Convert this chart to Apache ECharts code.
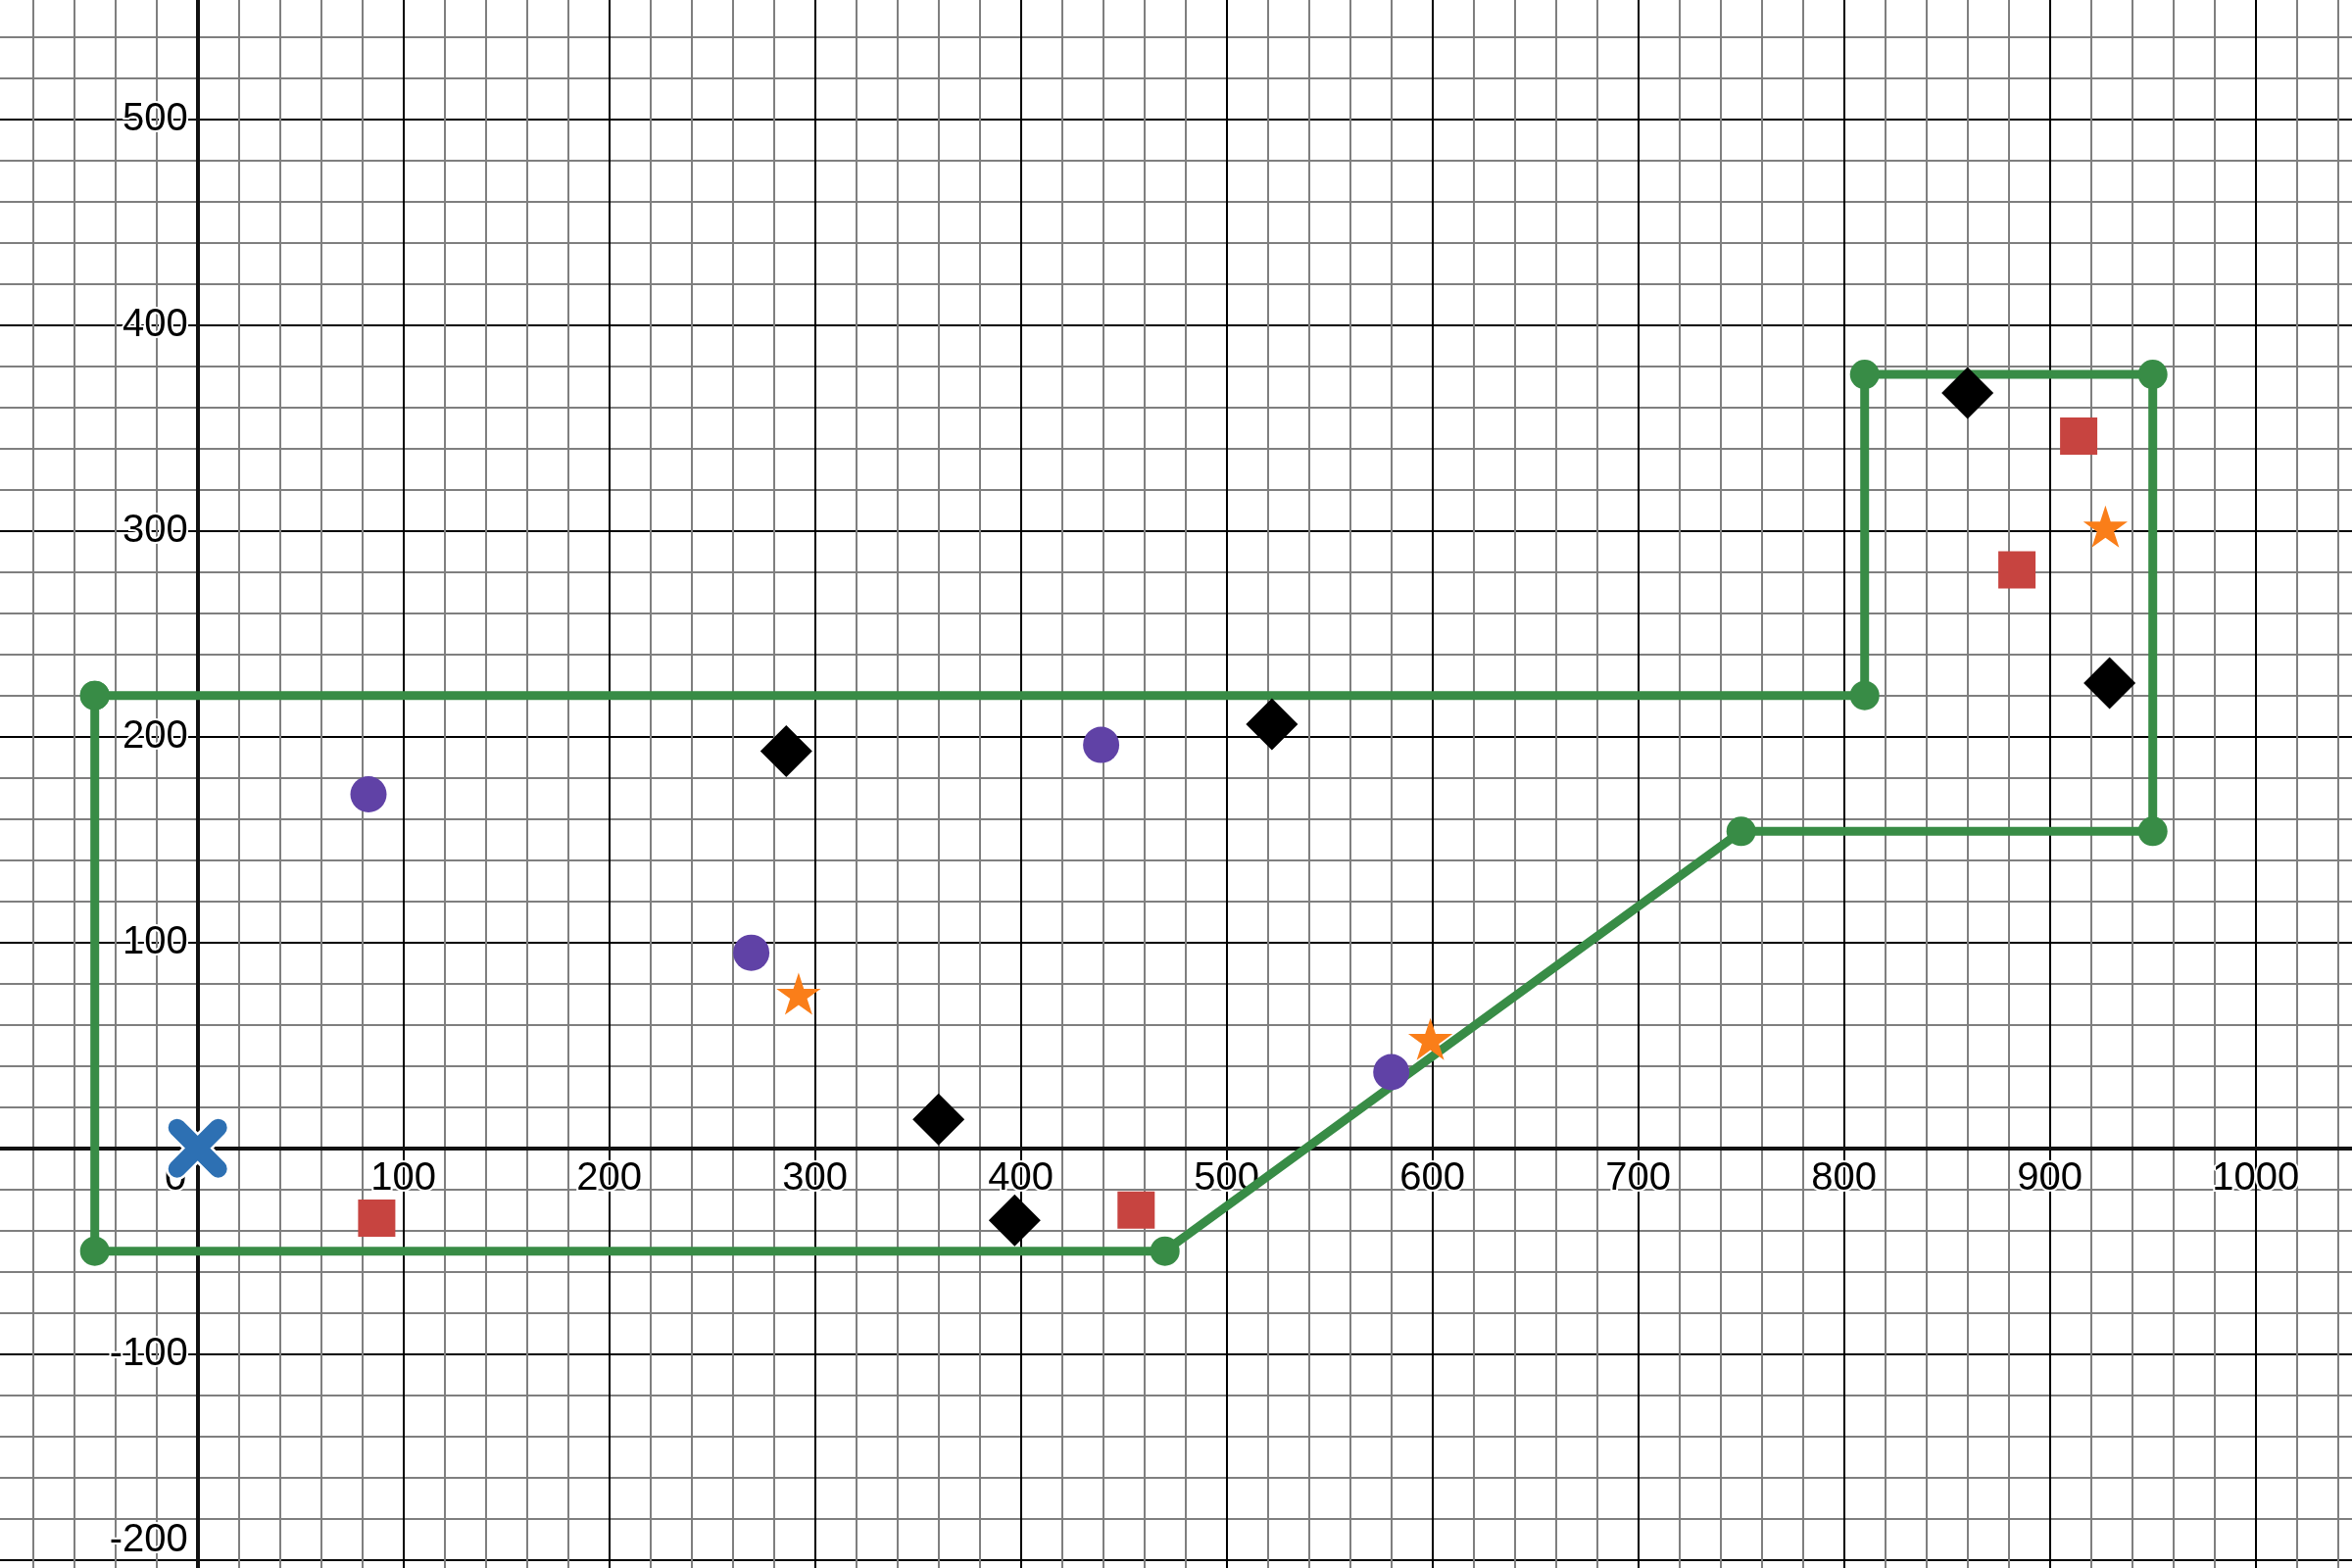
<!DOCTYPE html>
<html>
<head>
<meta charset="utf-8">
<script src="https://cdn.jsdelivr.net/npm/echarts@6/dist/echarts.min.js"></script>
<style>
html,body{margin:0;padding:0;background:#fff;}
#chart{width:2400px;height:1600px;}
</style>
</head>
<body>
<div id="chart"></div>
<script>
// ---- data ----
const greenPath = [[-50,220],[-50,-50],[470,-50],[750,154],[950,154],[950,376],[810,376],[810,220],[-50,220]];
const redSquares = [[87,-34],[456,-30],[884,281],[914,346]];
const orangeStars = [[292,74],[599,52],[927,301]];
const purpleCircles = [[83,172],[269,95],[439,196],[580,37]];
const blackDiamonds = [[286,193],[360,14],[397,-35],[522,206],[860,367],[929,226]];
const blueCross = [[0,0]];
const xTickLabels = [0,100,200,300,400,500,600,700,800,900,1000];
const yTickLabels = [-200,-100,100,200,300,400,500];

const STAR = 'path://M95.1 0 L117.55 69.1 L190.2 69.1 L131.4 111.8 L153.9 180.9 L95.1 138.2 L36.3 180.9 L58.8 111.8 L0 69.1 L72.65 69.1 Z';
const FONT = {fontFamily:'Liberation Sans, Arial, sans-serif', fontSize:40, color:'#000', textBorderColor:'#fff', textBorderWidth:4};

const chart = echarts.init(document.getElementById('chart'), null, {renderer:'canvas'});
const XMIN=-100, XMAX=1100, YMIN=-300, YMAX=600;
// pixel layout: x=0 at ~201.7px, y=0 at ~1171.7px, 2.1 px per unit
const GL=-8.3, GR=-111.7, GT=-88.3, GB=-201.7;

chart.setOption({
  animation:false,
  backgroundColor:'#fff',
  grid:{left:GL, right:GR, top:GT, bottom:GB, containLabel:false, outerBoundsMode:'none'},
  xAxis:[
    {type:'value', min:XMIN, max:XMAX, interval:100, position:'bottom', offset:-630,
     axisLine:{show:true, onZero:false, lineStyle:{color:'#111', width:4}},
     axisTick:{show:false},
     minorTick:{show:false, splitNumber:5},
     splitLine:{show:true, lineStyle:{color:'#000', width:2}},
     minorSplitLine:{show:true, lineStyle:{color:'#7f7f7f', width:2}},
     axisLabel:Object.assign({show:true, margin:11, showMinLabel:true, showMaxLabel:true,
       formatter:function(v){ if(xTickLabels.indexOf(v)<0) return ''; return v===0 ? '{z|0}' : String(v); },
       rich:{z:Object.assign({padding:[0,45,0,0]}, FONT)}}, FONT)}
  ],
  yAxis:[
    {type:'value', min:YMIN, max:YMAX, interval:100, position:'left', offset:-210,
     axisLine:{show:true, onZero:false, lineStyle:{color:'#111', width:4}},
     axisTick:{show:false},
     minorTick:{show:false, splitNumber:5},
     splitLine:{show:true, lineStyle:{color:'#000', width:2}},
     minorSplitLine:{show:true, lineStyle:{color:'#7f7f7f', width:2}},
     axisLabel:Object.assign({show:true, margin:10, showMinLabel:true, showMaxLabel:true,
       formatter:function(v){ if(yTickLabels.indexOf(v)<0) return ''; return v===-200 ? '{b|-200}' : String(v); },
       rich:{b:Object.assign({padding:[0,0,40,0]}, FONT)}}, FONT)}
  ],
  series:[
    {type:'line', name:'region', data:greenPath, z:3,
     symbol:'circle', symbolSize:30, showAllSymbol:true,
     lineStyle:{color:'#388c46', width:9}, itemStyle:{color:'#388c46', borderWidth:0}, silent:true},
    {type:'scatter', name:'squares', data:redSquares, symbol:'rect', symbolSize:38, z:4,
     itemStyle:{color:'#c74440', opacity:1}},
    {type:'scatter', name:'stars', data:orangeStars, symbol:STAR, symbolSize:[45.3,43.1], symbolOffset:[0,-2.3], z:4,
     itemStyle:{color:'#fa7e19', opacity:1}},
    {type:'scatter', name:'circles', data:purpleCircles, symbol:'circle', symbolSize:37, z:4,
     itemStyle:{color:'#6042a6', opacity:1}},
    {type:'scatter', name:'diamonds', data:blackDiamonds, symbol:'diamond', symbolSize:53, z:4,
     itemStyle:{color:'#000', opacity:1}},
    {type:'custom', name:'cross', data:blueCross, z:5,
     renderItem:function(params, api){
       const p = api.coord([api.value(0), api.value(1)]);
       const d = 21;
       const mk = function(w, c){ return [
         {type:'line', shape:{x1:p[0]-d,y1:p[1]-d,x2:p[0]+d,y2:p[1]+d}, style:{stroke:c, lineWidth:w, lineCap:'round'}},
         {type:'line', shape:{x1:p[0]-d,y1:p[1]+d,x2:p[0]+d,y2:p[1]-d}, style:{stroke:c, lineWidth:w, lineCap:'round'}}
       ];};
       return {type:'group', children: mk(23,'#fff').concat(mk(18,'#2d70b3'))};
     }}
  ]
});
</script>
</body>
</html>
